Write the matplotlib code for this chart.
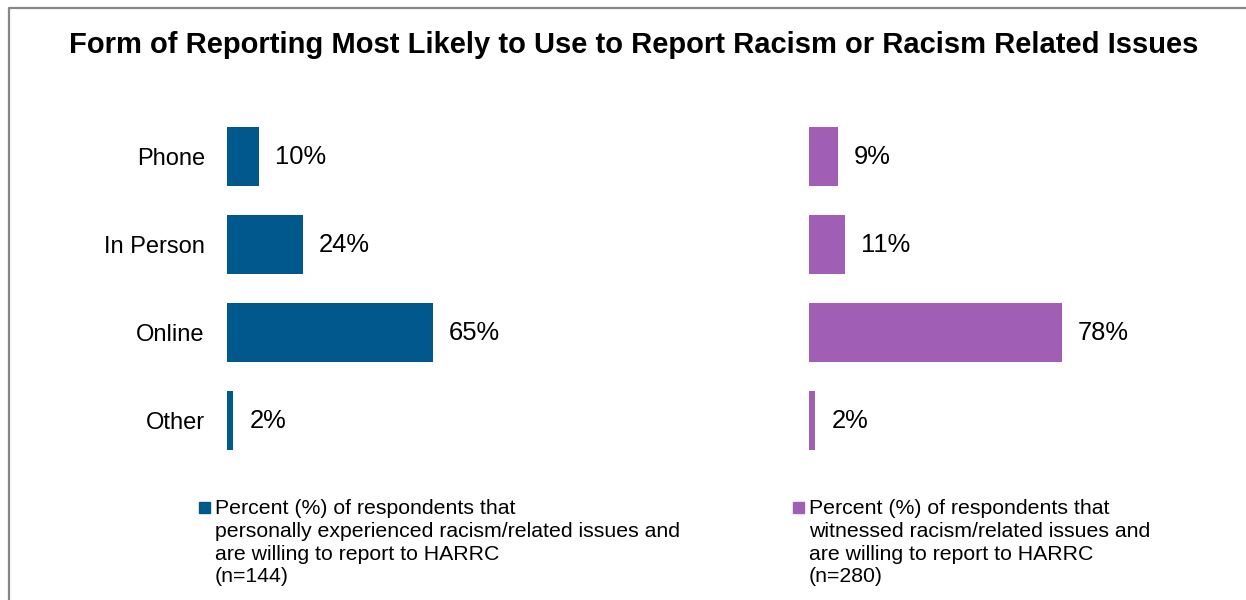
"""Form of reporting chart: two horizontal bar panels with legend captions."""
import matplotlib
matplotlib.use("Agg")
import matplotlib.pyplot as plt
from matplotlib.patches import Rectangle
from matplotlib.lines import Line2D

plt.rcParams["font.family"] = ["Liberation Sans", "DejaVu Sans"]

categories = ["Phone", "In Person", "Online", "Other"]
experienced = [10, 24, 65, 2]
witnessed = [9, 11, 78, 2]

BLUE = "#00588C"
PURPLE = "#A05FB4"
FRAME = "#878787"

W, H = 1246, 600
fig = plt.figure(figsize=(W / 100, H / 100), dpi=100)

def px(x0, y0, w, h):
    # pixel box (top-left origin) -> figure fraction
    return [x0 / W, 1 - (y0 + h) / H, w / W, h / H]

# frame (only left and top edges visible in the reference)
fig.add_artist(Line2D([9 / W, 9 / W, 1], [0, 1 - 8 / H, 1 - 8 / H],
                      color=FRAME, lw=1.6, transform=fig.transFigure))

fig.text(634 / W, 1 - 53 / H,
         "Form of Reporting Most Likely to Use to Report Racism or Racism Related Issues",
         ha="center", va="baseline", fontsize=21, fontweight="bold")

def panel(rect, values, color, show_labels):
    ax = fig.add_axes(rect)
    y = list(range(len(categories)))
    ax.barh(y, values, height=0.67, color=color)
    ax.set_xlim(0, 100)
    ax.set_ylim(len(categories) - 0.5, -0.5)
    ax.set_xticks([])
    ax.set_yticks(y)
    if show_labels:
        ax.set_yticklabels(categories, fontsize=17)
    else:
        ax.set_yticklabels([])
    ax.tick_params(axis="y", length=0, pad=16)
    for s in ax.spines.values():
        s.set_visible(False)
    ax.patch.set_visible(False)
    for yi, v in zip(y, values):
        ax.annotate(f"{v}%", (v, yi), xytext=(11.5, 0), textcoords="offset points",
                    ha="left", va="center", fontsize=18.4)
    return ax

panel(px(227, 112.5, 317, 352), experienced, BLUE, True)
panel(px(809, 112.5, 324, 352), witnessed, PURPLE, False)

legends = [
    (199, BLUE, "Percent (%) of respondents that\n"
                "personally experienced racism/related issues and\n"
                "are willing to report to HARRC\n(n=144)"),
    (793, PURPLE, "Percent (%) of respondents that\n"
                  "witnessed racism/related issues and\n"
                  "are willing to report to HARRC\n(n=280)"),
]
for x0, color, txt in legends:
    fig.add_artist(Rectangle((x0 / W, 1 - 513 / H), 11 / W, 11 / H,
                             color=color, transform=fig.transFigure))
    fig.text((x0 + 16) / W, 1 - 499 / H, txt, ha="left", va="top",
             fontsize=15.3, linespacing=1.25)

fig.savefig("out.png", dpi=100)
